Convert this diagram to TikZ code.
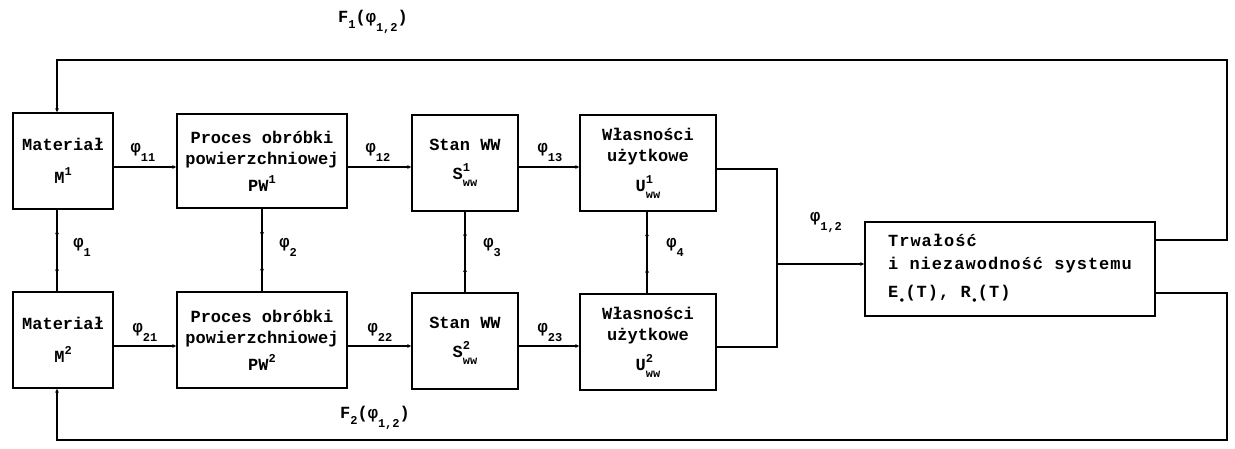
\documentclass[tikz,border=0pt]{standalone}
\usepackage{fontspec}
\setmainfont{Liberation Mono}
\usetikzlibrary{arrows.meta,decorations.markings}
\newcommand{\sz}{\fontsize{12}{12}\selectfont}
\newcommand{\ph}[1]{φ\raisebox{-9pt}{\sz #1}}
\newcommand{\upx}[1]{\raisebox{8pt}{\sz #1}}
\newcommand{\ww}[1]{\rlap{\upx{#1}}\raisebox{-7pt}{\sz ww}}
\tikzset{
  box/.style={draw, line width=1.6pt, inner sep=0pt, align=center},
  conn/.style={line width=1.5pt},
  tip/.style={conn, -{Stealth[length=4pt,width=4pt]}},
  twoway/.style={conn, postaction={decorate}, decoration={markings,
      mark=at position 0.33 with {\arrow{Stealth[length=4pt,width=4pt]}},
      mark=at position 0.7 with {\arrowreversed{Stealth[length=4pt,width=4pt]}}}},
  lab/.style={inner sep=0pt}
}
\begin{document}
\begin{tikzpicture}[x=1pt,y=-1pt,font=\fontsize{17}{21}\selectfont\bfseries]
\useasboundingbox (0,0) rectangle (1235,449);
% row 1
\node[box,minimum width=100pt,minimum height=96pt] (M1) at (63,161) {Materiał\\[12pt]M\upx{1}};
\node[box,minimum width=170pt,minimum height=94pt] (PW1) at (262,161) {Proces obróbki\\powierzchniowej\\[6pt]PW\upx{1}};
\node[box,minimum width=106pt,minimum height=96pt] (S1) at (465,163) {Stan WW\\[8pt]S\ww{1}};
\node[box,minimum width=136pt,minimum height=96pt] (U1) at (648,163) {Własności\\użytkowe\\[9pt]U\ww{1}};
% row 2
\node[box,minimum width=100pt,minimum height=96pt] (M2) at (63,340) {Materiał\\[12pt]M\upx{2}};
\node[box,minimum width=170pt,minimum height=96pt] (PW2) at (262,340) {Proces obróbki\\powierzchniowej\\[6pt]PW\upx{2}};
\node[box,minimum width=106pt,minimum height=96pt] (S2) at (465,341) {Stan WW\\[8pt]S\ww{2}};
\node[box,minimum width=136pt,minimum height=96pt] (U2) at (648,342) {Własności\\użytkowe\\[9pt]U\ww{2}};
% result
\node[box,minimum width=290pt,minimum height=94pt,align=left] (T) at (1010,269)
  {\addfontfeature{LetterSpace=6}Trwałość\\[2pt]\addfontfeature{LetterSpace=6}i niezawodność systemu\\[7pt]\addfontfeature{LetterSpace=6}E\raisebox{-7pt}{\sz •}(T), R\raisebox{-7pt}{\sz •}(T)};
% horizontal flows
\draw[tip] ([yshift=-6pt]M1.east) -- ([yshift=-6pt]PW1.west);
\draw[tip] ([yshift=-6pt]PW1.east) -- ([yshift=-6pt]PW1.east -| S1.west);
\draw[tip] ([yshift=-4pt]S1.east) -- ([yshift=-4pt]S1.east -| U1.west);
\draw[tip] ([yshift=-6pt]M2.east) -- ([yshift=-6pt]M2.east -| PW2.west);
\draw[tip] ([yshift=-6pt]PW2.east) -- ([yshift=-6pt]PW2.east -| S2.west);
\draw[tip] ([yshift=-5pt]S2.east) -- ([yshift=-5pt]S2.east -| U2.west);
% vertical couplings
\draw[twoway] ([xshift=-6pt]M1.south) -- ([xshift=-6pt]M1.south |- M2.north);
\draw[twoway] (PW1.south) -- (PW1.south |- PW2.north);
\draw[twoway] (S1.south) -- (S1.south |- S2.north);
\draw[twoway] ([xshift=-1pt]U1.south) -- ([xshift=-1pt]U1.south |- U2.north);
% junction to result
\coordinate (J) at (777,264);
\draw[conn] ([yshift=-6pt]U1.east) -| (J) |- ([yshift=-5pt]U2.east);
\draw[tip] (J) -- (J -| T.west);
% feedback loops
\coordinate (tr) at (1227,60);
\coordinate (tl) at (57,60);
\coordinate (br) at (1227,440);
\coordinate (bl) at (57,440);
\draw[tip] ([yshift=29pt]T.east) -| (tr) -- (tl) -- (tl |- M1.north);
\draw[tip] ([yshift=-24pt]T.east) -| (br) -- (bl) -- (bl |- M2.south);
% labels
\node[lab] (l11) at (143,152) {\ph{11}};
\node[lab] (l12) at (378,152) {\ph{12}};
\node[lab] (l13) at (550,152) {\ph{13}};
\node[lab] (l21) at (145,332) {\ph{21}};
\node[lab] (l22) at (380,332) {\ph{22}};
\node[lab] (l23) at (550,332) {\ph{23}};
\node[lab] (l1) at (82,247) {\ph{1}};
\node[lab] (l2) at (288,247) {\ph{2}};
\node[lab] (l3) at (492,247) {\ph{3}};
\node[lab] (l4) at (675,247) {\ph{4}};
\node[lab] (l12s) at (826,222) {\ph{1,2}};
\node[lab] (F1) at (373,22) {F\raisebox{-6pt}{\sz 1}(\ph{1,2})};
\node[lab] (F2) at (375,418) {F\raisebox{-6pt}{\sz 2}(\ph{1,2})};
\end{tikzpicture}
\end{document}
